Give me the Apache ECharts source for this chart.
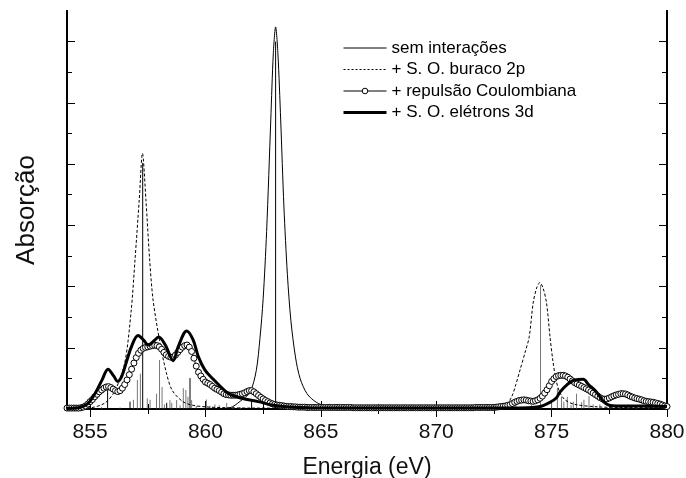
<!DOCTYPE html>
<html>
<head>
<meta charset="utf-8">
<script src="https://cdn.jsdelivr.net/npm/echarts@6/dist/echarts.min.js"></script>
<style>html,body{margin:0;padding:0;background:#fff;}#c{width:686px;height:478px;}</style>
</head>
<body>
<div id="c"></div>
<script>
// ---- data ----
const seriesNames = ['sem interações', '+ S. O. buraco 2p', '+ repulsão Coulombiana', '+ S. O. elétrons 3d'];
const xTickLabels = [855, 860, 865, 870, 875, 880];
const xMinorTicks = [857.5, 862.5, 867.5, 872.5, 877.5];
const yMajorTicks = [0, 2, 4, 6, 8, 10, 12];
const yMinorTicks = [1, 3, 5, 7, 9, 11];

// thin solid: no interactions
const semInteracoes = [[854,0],[860.5,0.01],[861.06,0.04],[861.5,0.25],[861.93,0.55],[862.2,1.25],[862.36,2.3],[862.5,3.6],[862.65,5.8],[862.83,9.44],[862.94,11.6],[863.04,12.48],[863.14,11.6],[863.26,9.44],[863.4,6.6],[863.55,4.4],[863.7,2.9],[863.9,1.7],[864.1,1.0],[864.4,0.5],[864.8,0.22],[865.3,0.08],[866.5,0.02],[880,0]];

// dashed: + spin-orbit 2p hole
const soBuraco2p = [[854,0.02],[855.0,0.04],[855.65,0.2],[856.08,0.6],[856.5,1.5],[856.78,3.2],[856.95,4.9],[857.13,6.83],[857.27,8.35],[857.42,6.83],[857.58,4.9],[857.73,3.56],[858.03,2.16],[858.3,1.2],[858.55,0.62],[859.0,0.25],[859.4,0.13],[860,0.07],[861,0.04],[862,0.03],[870,0.02],[871,0.02],[872.5,0.05],[873.0,0.12],[873.27,0.4],[873.45,0.8],[873.63,1.27],[873.85,1.85],[874.03,2.36],[874.2,3.46],[874.35,3.95],[874.49,4.13],[874.63,3.95],[874.78,3.46],[874.93,2.36],[875.05,1.6],[875.19,0.95],[875.35,0.55],[875.58,0.3],[876,0.15],[877,0.07],[878,0.05],[880,0.04]];

// circles: + Coulomb repulsion, sampled every 0.1 eV from 854.0 eV
const coulombStart = 854.0, coulombStep = 0.1;
const coulombY = [
  0.03,0.03,0.03,0.03,0.03,0.03,0.04,0.06,0.10,0.16,  // 854
  0.24,0.31,0.40,0.48,0.56,0.62,0.68,0.72,0.73,0.70,  // 855
  0.65,0.60,0.57,0.60,0.68,0.80,0.95,1.12,1.30,1.50,  // 856
  1.68,1.82,1.92,1.98,2.01,2.03,2.05,2.07,2.08,2.07,  // 857
  2.03,1.95,1.85,1.77,1.72,1.69,1.70,1.76,1.85,1.94,  // 858
  2.02,2.07,2.09,2.02,1.88,1.66,1.40,1.20,1.08,0.97,  // 859
  0.88,0.84,0.80,0.74,0.68,0.64,0.60,0.55,0.50,0.47,  // 860
  0.46,0.45,0.45,0.45,0.46,0.48,0.50,0.53,0.57,0.60,  // 861
  0.60,0.56,0.50,0.44,0.38,0.33,0.28,0.24,0.20,0.17,  // 862
  0.15,0.13,0.12,0.11,0.10,0.09,0.08,0.08,0.07,0.07,  // 863
  0.06,0.06,0.06,0.06,0.05,0.05,0.05,0.05,0.05,0.05,  // 864
  0.05,0.05,0.05,0.05,0.05,0.05,0.05,0.05,0.05,0.05,  // 865
  0.05,0.05,0.05,0.05,0.04,0.04,0.04,0.04,0.04,0.04,  // 866
  0.04,0.04,0.04,0.04,0.04,0.04,0.04,0.04,0.04,0.04,  // 867
  0.04,0.04,0.04,0.04,0.04,0.04,0.04,0.04,0.04,0.04,  // 868
  0.04,0.04,0.04,0.04,0.04,0.04,0.04,0.04,0.04,0.04,  // 869
  0.04,0.04,0.04,0.04,0.04,0.04,0.04,0.04,0.04,0.04,  // 870
  0.04,0.04,0.04,0.04,0.04,0.04,0.04,0.05,0.05,0.05,  // 871
  0.05,0.05,0.05,0.05,0.05,0.05,0.06,0.07,0.08,0.09,  // 872
  0.10,0.12,0.14,0.18,0.22,0.25,0.28,0.29,0.30,0.29,  // 873
  0.27,0.26,0.25,0.27,0.30,0.35,0.42,0.52,0.63,0.76,  // 874
  0.90,0.99,1.06,1.09,1.10,1.10,1.08,1.04,0.98,0.92,  // 875
  0.86,0.82,0.78,0.74,0.70,0.66,0.62,0.57,0.52,0.47,  // 876
  0.42,0.37,0.33,0.32,0.33,0.36,0.40,0.43,0.46,0.48,  // 877
  0.50,0.50,0.49,0.46,0.42,0.39,0.36,0.34,0.32,0.30,  // 878
  0.27,0.25,0.24,0.23,0.22,0.20,0.18,0.16,0.13,0.10,  // 879
  0.08                                                // 880
];

// thick solid: + spin-orbit 3d electrons
const soEletrons3d = [[854.0,0.02],[854.5,0.04],[854.75,0.1],[854.94,0.2],[855.23,0.52],[855.52,0.95],[855.78,1.3],[856.02,1.08],[856.2,0.9],[856.38,1.08],[856.6,1.6],[856.82,2.09],[857.08,2.4],[857.32,2.25],[857.52,2.09],[857.76,2.22],[857.97,2.35],[858.26,2.09],[858.6,1.58],[858.82,2.04],[859.19,2.55],[859.47,2.25],[859.69,1.71],[859.98,1.27],[860.34,0.97],[860.63,0.75],[860.99,0.51],[861.57,0.35],[862.29,0.24],[862.87,0.13],[863.5,0.07],[864.5,0.04],[872,0.03],[874,0.04],[874.5,0.08],[874.93,0.22],[875.2,0.36],[875.36,0.55],[875.65,0.78],[876.0,0.95],[876.37,0.97],[876.6,0.8],[876.95,0.55],[877.24,0.25],[877.5,0.12],[877.82,0.1],[878.5,0.1],[879.2,0.09],[880,0.08]];

// stick spectra
const blackSticks = [[855.76,0.62],[856.73,0.24],[857.28,8.04],[858.32,0.2],[859.33,1.01],[862.0,0.3],[863.04,12.0]];
const graySticks = [[855.5,0.06],[856.3,0.05],[856.88,0.3],[857.05,0.95],[857.18,1.15],[857.48,0.35],[857.6,0.3],[857.88,0.5],[858.01,1.6],[858.12,0.72],[858.22,0.15],[858.46,0.29],[858.54,0.2],[858.75,0.29],[858.9,0.12],[859.04,0.68],[859.15,0.62],[859.24,0.4],[859.4,0.29],[859.6,0.1],[860.04,0.31],[860.2,0.1],[860.41,0.15],[860.6,0.12],[860.92,0.2],[861.2,0.08],[861.5,0.06],[873.45,0.19],[874.13,0.13],[874.52,4.05],[875.0,0.19],[875.25,0.68],[875.43,0.4],[875.53,0.24],[875.68,0.4],[875.84,0.13],[875.94,0.24],[876.08,0.5],[876.3,0.22],[876.4,0.3],[876.62,0.42],[876.8,0.15],[877.09,0.15],[877.53,0.08],[877.96,0.1],[878.32,0.15],[878.68,0.13],[879.2,0.08]];

// ---- chart ----
const FONT = "'Liberation Sans', Arial, Helvetica, sans-serif";
const coulombData = coulombY.map((v, i) => [+(coulombStart + i * coulombStep).toFixed(2), v]);

function stickSeries(name, data, color) {
  return {
    name: name, type: 'custom', data: data, z: 1, silent: true, clip: true,
    encode: { x: 0, y: 1 },
    renderItem: function (params, api) {
      const p0 = api.coord([api.value(0), 0]);
      const p1 = api.coord([api.value(0), api.value(1)]);
      return { type: 'line', shape: { x1: p0[0], y1: p0[1], x2: p1[0], y2: p1[1] },
               style: { stroke: color, lineWidth: 1 } };
    }
  };
}

const X_MIN = 854, X_MAX = 880, Y_MIN = 0, Y_MAX = 13;
const axisLineStyle = { show: true, lineStyle: { color: '#000', width: 2 } };
function xAx(pos, ticks, len, opts) {
  return Object.assign({
    type: 'value', position: pos, min: X_MIN, max: X_MAX,
    axisLine: axisLineStyle, splitLine: { show: false },
    axisTick: { show: true, inside: true, length: len, customValues: ticks, lineStyle: { color: '#000', width: 1 } },
    axisLabel: { show: false }
  }, opts || {});
}
function yAx(pos, ticks, len, opts) {
  return Object.assign({
    type: 'value', position: pos, min: Y_MIN, max: Y_MAX,
    axisLine: axisLineStyle, splitLine: { show: false },
    axisTick: { show: true, inside: true, length: len, customValues: ticks, lineStyle: { color: '#000', width: 1 } },
    axisLabel: { show: false }
  }, opts || {});
}

const hiddenSymbol = { opacity: 0 };
const chart = echarts.init(document.getElementById('c'), null, { renderer: 'canvas' });
chart.setOption({
  animation: false,
  backgroundColor: '#fff',
  grid: { left: 67, right: 19, top: 11, bottom: 69, containLabel: false, outerBoundsMode: 'none' },
  legend: {
    data: [
      { name: seriesNames[0], itemStyle: hiddenSymbol, lineStyle: { width: 1, type: 'solid' } },
      { name: seriesNames[1], itemStyle: hiddenSymbol, lineStyle: { width: 1, type: [2, 2] } },
      { name: seriesNames[2], lineStyle: { width: 1, type: 'solid' }, itemStyle: { color: '#fff', borderColor: '#000', borderWidth: 1 } },
      { name: seriesNames[3], itemStyle: hiddenSymbol, lineStyle: { width: 3, type: 'solid' } }
    ],
    orient: 'vertical', left: 337, top: 34,
    itemWidth: 43, itemHeight: 7, itemGap: 3.5,
    textStyle: { fontFamily: FONT, fontSize: 17, color: '#000', lineHeight: 18 },
    inactiveColor: '#000'
  },
  xAxis: [
    xAx('bottom', xTickLabels, 8, {
      axisLabel: { show: true, customValues: xTickLabels, margin: 13, fontFamily: FONT, fontSize: 21, color: '#111' },
      name: 'Energia (eV)', nameLocation: 'middle', nameGap: 47,
      nameTextStyle: { fontFamily: FONT, fontSize: 23, color: '#111' }
    }),
    xAx('bottom', xMinorTicks, 5),
    xAx('top', xTickLabels, 8),
    xAx('top', xMinorTicks, 5)
  ],
  yAxis: [
    yAx('left', yMajorTicks, 8, {
      name: 'Absorção', nameLocation: 'middle', nameGap: 27,
      nameTextStyle: { fontFamily: FONT, fontSize: 26, color: '#111' }
    }),
    yAx('left', yMinorTicks, 5),
    yAx('right', yMajorTicks, 8),
    yAx('right', yMinorTicks, 5)
  ],
  series: [
    stickSeries('sticksGray', graySticks, '#777'),
    stickSeries('sticksBlack', blackSticks, '#000'),
    { name: seriesNames[0], type: 'line', data: semInteracoes, smooth: 0.3, symbol: 'none',
      lineStyle: { color: '#000', width: 1 }, itemStyle: { color: '#000' }, z: 3 },
    { name: seriesNames[1], type: 'line', data: soBuraco2p, smooth: 0.3, symbol: 'none',
      lineStyle: { color: '#000', width: 1, type: [3, 2] }, itemStyle: { color: '#000' }, z: 3 },
    { name: seriesNames[2], type: 'line', data: coulombData, smooth: 0.3, symbol: 'circle', symbolSize: 6,
      showSymbol: true, showAllSymbol: true,
      lineStyle: { color: '#000', width: 1 }, itemStyle: { color: '#fff', borderColor: '#000', borderWidth: 1 }, z: 4 },
    { name: seriesNames[3], type: 'line', data: soEletrons3d, smooth: 0.35, symbol: 'none',
      lineStyle: { color: '#000', width: 3 }, itemStyle: { color: '#000' }, z: 5 }
  ]
});
</script>
</body>
</html>
